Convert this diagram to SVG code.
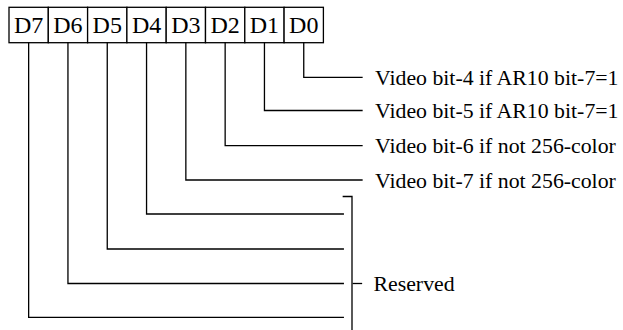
<svg xmlns="http://www.w3.org/2000/svg" width="623" height="330" viewBox="0 0 623 330">
<style>
.ln{fill:none;stroke:#000;stroke-width:1.3;stroke-linecap:square}
.cell{fill:#fff;stroke:#000;stroke-width:1.3}
.bit{font-size:24px;fill:#000;text-anchor:middle}
.lbl{font-size:21.8px;fill:#000}
</style>
<rect width="623" height="330" fill="#fff"/>
<g id="register" font-family="Liberation Serif, Times New Roman, serif">
<g id="bit-D7"><rect class="cell" x="9" y="7.3" width="39.3" height="35.4"/><text class="bit" x="28.65" y="33.3">D7</text></g>
<g id="bit-D6"><rect class="cell" x="48.3" y="7.3" width="39.3" height="35.4"/><text class="bit" x="67.95" y="33.3">D6</text></g>
<g id="bit-D5"><rect class="cell" x="87.6" y="7.3" width="39.3" height="35.4"/><text class="bit" x="107.25" y="33.3">D5</text></g>
<g id="bit-D4"><rect class="cell" x="126.9" y="7.3" width="39.3" height="35.4"/><text class="bit" x="146.55" y="33.3">D4</text></g>
<g id="bit-D3"><rect class="cell" x="166.2" y="7.3" width="39.3" height="35.4"/><text class="bit" x="185.85" y="33.3">D3</text></g>
<g id="bit-D2"><rect class="cell" x="205.5" y="7.3" width="39.3" height="35.4"/><text class="bit" x="225.15" y="33.3">D2</text></g>
<g id="bit-D1"><rect class="cell" x="244.8" y="7.3" width="39.3" height="35.4"/><text class="bit" x="264.45" y="33.3">D1</text></g>
<g id="bit-D0"><rect class="cell" x="284.1" y="7.3" width="39.3" height="35.4"/><text class="bit" x="303.75" y="33.3">D0</text></g>
</g>
<g id="connectors">
<polyline class="ln" points="303.75,42.7 303.75,77.3 362,77.3"/>
<polyline class="ln" points="264.45,42.7 264.45,110.5 362,110.5"/>
<polyline class="ln" points="225.15,42.7 225.15,145.7 362,145.7"/>
<polyline class="ln" points="185.85,42.7 185.85,180 362,180"/>
<polyline class="ln" points="146.55,42.7 146.55,214 343.3,214"/>
<polyline class="ln" points="107.25,42.7 107.25,249 343.3,249"/>
<polyline class="ln" points="67.95,42.7 67.95,283.5 343.3,283.5"/>
<polyline class="ln" points="28.65,42.7 28.65,317.3 343.3,317.3"/>
<polyline class="ln" points="343.3,196.5 352,196.5 352,331"/>
<line class="ln" x1="353.3" y1="283.5" x2="361.5" y2="283.5"/>
</g>
<g id="labels" font-family="Liberation Serif, Times New Roman, serif">
<g id="label-D0"><text class="lbl" x="375" y="84.8">Video bit-4 if AR10 bit-7=1</text></g>
<g id="label-D1"><text class="lbl" x="375" y="118">Video bit-5 if AR10 bit-7=1</text></g>
<g id="label-D2"><text class="lbl" x="375" y="153.2">Video bit-6 if not 256-color</text></g>
<g id="label-D3"><text class="lbl" x="375" y="187.5">Video bit-7 if not 256-color</text></g>
<g id="label-reserved"><text class="lbl" x="373.5" y="290.7">Reserved</text></g>
</g>
</svg>
